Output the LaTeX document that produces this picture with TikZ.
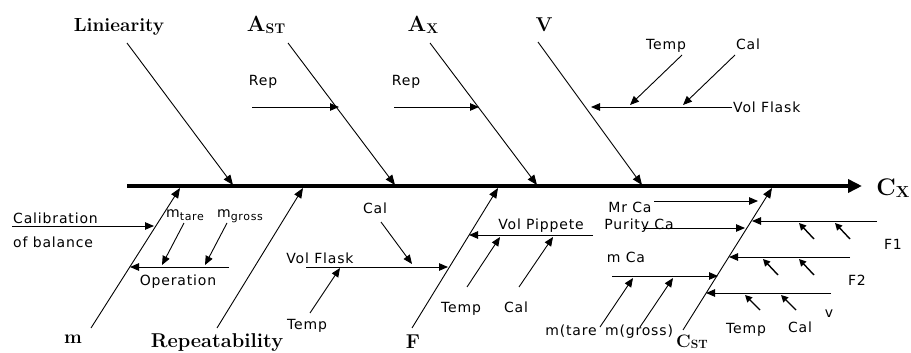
\documentclass[tikz,border=0pt]{standalone}
\usepackage{fontspec}
\newfontfamily\labfont[LetterSpace=6]{DejaVu Sans}
\usetikzlibrary{arrows.meta,calc}
\begin{document}
\begin{tikzpicture}[x=1pt,y=-1pt,
  bone/.style={line width=0.9pt,-{Triangle[length=10pt,width=8pt]}},
  twig/.style={line width=0.9pt,-{Triangle[length=9pt,width=7.5pt]}},
  tiny/.style={line width=1.4pt,-{Triangle[length=7pt,width=7pt]}},
  lab/.style={font=\labfont\fontsize{14}{16}\selectfont, inner sep=0pt, anchor=base},
  big/.style={font=\fontsize{19}{22}\selectfont\bfseries, inner sep=0pt, anchor=base}]
\useasboundingbox (0,0) rectangle (911,353);

% spine
\coordinate (s0) at (127,186);
\coordinate (s1) at (862,186);
\draw[line width=4pt,-{Triangle[length=14pt,width=13pt]}] (s0) -- (s1);
\node[big,font=\fontsize{24}{26}\selectfont\bfseries] (cx) at (893,195) {C\raisebox{-2pt}{\fontsize{16}{16}\selectfont X}};

% top bones
\node[big] (lin) at (119,32) {Liniearity};
\coordinate (Lt) at (127,43); \coordinate (Lh) at (233,185);
\draw[bone] (Lt) -- (Lh);

\node[big,font=\fontsize{22}{24}\selectfont\bfseries] (ast) at (266,32) {A\raisebox{-2pt}{\fontsize{14}{14}\selectfont ST}};
\coordinate (At) at (288,43); \coordinate (Ah) at (395,185);
\draw[bone] (At) -- (Ah);

\node[big,font=\fontsize{22}{24}\selectfont\bfseries] (ax) at (423,32) {A\raisebox{-2pt}{\fontsize{14}{14}\selectfont X}};
\coordinate (Xt) at (430,43); \coordinate (Xh) at (537,185);
\draw[bone] (Xt) -- (Xh);

\node[big,font=\fontsize{20}{22}\selectfont\bfseries] (vv) at (544,32) {V};
\coordinate (Vt) at (538,42); \coordinate (Vh) at (642,185);
\draw[bone] (Vt) -- (Vh);

% top twigs
\node[lab] (rep1) at (263,86) {Rep};
\coordinate (r1a) at (252,107); \coordinate (r1b) at (339,107);
\draw[twig] (r1a) -- (r1b);
\node[lab] (rep2) at (406,86) {Rep};
\coordinate (r2a) at (394,107); \coordinate (r2b) at (479,107);
\draw[twig] (r2a) -- (r2b);

\coordinate (vfa) at (732,107); \coordinate (vfb) at (591,107);
\draw[twig] (vfa) -- (vfb);
\node[lab,anchor=base west] (vfl) at (733,113) {Vol Flask};
\node[lab] (ttemp) at (666,50) {Temp};
\coordinate (tta) at (682,55); \coordinate (ttb) at (630,105);
\draw[twig] (tta) -- (ttb);
\node[lab] (tcal) at (748,50) {Cal};
\coordinate (tca) at (735,55); \coordinate (tcb) at (683,105);
\draw[twig] (tca) -- (tcb);

% bottom bone m
\node[big] (mm) at (73,343) {m};
\coordinate (mt) at (91,328); \coordinate (mh) at (180,188);
\draw[bone] (mt) -- (mh);
\node[lab,anchor=base west] (calib) at (13,223) {Calibration};
\node[lab,anchor=base west] (ofbal) at (13,247) {of balance};
\coordinate (ca) at (12,226); \coordinate (cb) at (154,226);
\draw[twig] (ca) -- (cb);
\coordinate (opa) at (229,267); \coordinate (opb) at (130,267);
\draw[twig] (opa) -- (opb);
\node[lab] (oper) at (178,285) {Operation};
\node[lab,anchor=base west] (mtare) at (166,217) {m\raisebox{-3pt}{\fontsize{11}{11}\selectfont tare}};
\node[lab,anchor=base west] (mgross) at (217,217) {m\raisebox{-3pt}{\fontsize{11}{11}\selectfont gross}};
\coordinate (mta) at (184,223); \coordinate (mtb) at (162,265);
\draw[twig] (mta) -- (mtb);
\coordinate (mga) at (227,223); \coordinate (mgb) at (205,265);
\draw[twig] (mga) -- (mgb);

% bottom bone Repeatability
\node[big,font=\fontsize{20}{22}\selectfont\bfseries] (repl) at (217,347) {Repeatability};
\coordinate (rt) at (217,328); \coordinate (rh) at (303,188);
\draw[bone] (rt) -- (rh);

% bottom bone F
\node[big,font=\fontsize{20}{22}\selectfont\bfseries] (ff) at (413,348) {F};
\coordinate (ft) at (412,328); \coordinate (fh) at (498,188);
\draw[bone] (ft) -- (fh);
\node[lab] (lcal) at (375,213) {Cal};
\coordinate (lca) at (381,222); \coordinate (lcb) at (412,264);
\draw[twig] (lca) -- (lcb);
\node[lab] (lvf) at (320,263) {Vol Flask};
\coordinate (lvfa) at (306,267); \coordinate (lvfb) at (448,267);
\draw[twig] (lvfa) -- (lvfb);
\node[lab] (ltemp) at (307,329) {Temp};
\coordinate (lta) at (310,313); \coordinate (ltb) at (340,268);
\draw[twig] (lta) -- (ltb);
\node[lab] (vpl) at (541,229) {Vol Pippete};
\coordinate (vpa) at (593,235); \coordinate (vpb) at (469,235);
\draw[twig] (vpa) -- (vpb);
\node[lab] (mtemp) at (461,312) {Temp};
\coordinate (mtea) at (467,287); \coordinate (mteb) at (500,237);
\draw[twig] (mtea) -- (mteb);
\node[lab] (mcal) at (516,312) {Cal};
\coordinate (mcaa) at (519,287); \coordinate (mcab) at (553,237);
\draw[twig] (mcaa) -- (mcab);

% bottom bone C_ST
\node[big,font=\fontsize{18}{20}\selectfont\bfseries] (cst) at (692,347) {C\raisebox{-1pt}{\fontsize{12}{12}\selectfont ST}};
\coordinate (ct) at (683,330); \coordinate (ch) at (772,188);
\draw[bone] (ct) -- (ch);
\node[lab] (mrca) at (630,212) {Mr Ca};
\coordinate (mra) at (654,201); \coordinate (mrb) at (758,201);
\draw[twig] (mra) -- (mrb);
\node[lab] (purca) at (639,229) {Purity Ca};
\coordinate (pua) at (643,228); \coordinate (pub) at (745,228);
\draw[twig] (pua) -- (pub);
\node[lab] (mca) at (626,262) {m Ca};
\coordinate (mcla) at (612,276); \coordinate (mclb) at (718,276);
\draw[twig] (mcla) -- (mclb);
\node[lab] (mtarel) at (571,335) {m(tare};
\coordinate (mtla) at (600,327); \coordinate (mtlb) at (633,278);
\draw[twig] (mtla) -- (mtlb);
\node[lab] (mgrossl) at (639,335) {m(gross)};
\coordinate (mgla) at (640,327); \coordinate (mglb) at (673,278);
\draw[twig] (mgla) -- (mglb);

% right side twigs
\coordinate (f1a) at (877,221); \coordinate (f1b) at (752,221);
\draw[twig] (f1a) -- (f1b);
\node[lab] (f1l) at (893,249) {F1};
\coordinate (f1p) at (814,239); \coordinate (f1q) at (799,223);
\draw[tiny] (f1p) -- (f1q);
\coordinate (f1r) at (850,239); \coordinate (f1s) at (835,223);
\draw[tiny] (f1r) -- (f1s);

\coordinate (f2a) at (850,257); \coordinate (f2b) at (729,257);
\draw[twig] (f2a) -- (f2b);
\node[lab] (f2l) at (857,285) {F2};
\coordinate (f2p) at (778,275); \coordinate (f2q) at (763,259);
\draw[tiny] (f2p) -- (f2q);
\coordinate (f2r) at (814,275); \coordinate (f2s) at (799,259);
\draw[tiny] (f2r) -- (f2s);

\coordinate (va) at (831,293); \coordinate (vb) at (706,293);
\draw[twig] (va) -- (vb);
\node[lab] (vl) at (829,317) {v};
\coordinate (vp) at (760,310); \coordinate (vq) at (745,295);
\draw[tiny] (vp) -- (vq);
\coordinate (vr) at (796,310); \coordinate (vs) at (781,295);
\draw[tiny] (vr) -- (vs);
\node[lab] (rtemp) at (746,333) {Temp};
\node[lab] (rcal) at (800,332) {Cal};
\end{tikzpicture}
\end{document}
